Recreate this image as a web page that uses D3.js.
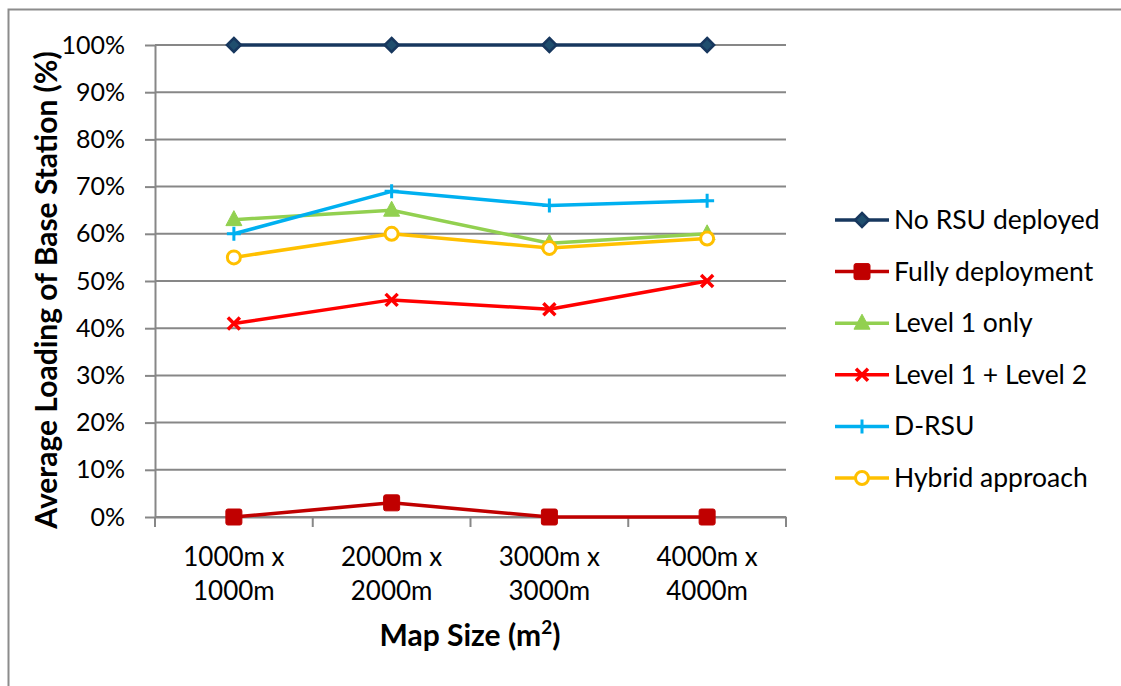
<!DOCTYPE html>
<html><head><meta charset="utf-8">
<script src="https://cdn.jsdelivr.net/npm/d3@7"></script>
<style>body{margin:0;background:#fff;} svg{display:block;}</style>
</head><body>
<svg id="c" width="1121" height="686"></svg>
<script>
const categories = ["1000m x|1000m","2000m x|2000m","3000m x|3000m","4000m x|4000m"];
const yTicks = [0,10,20,30,40,50,60,70,80,90,100];
const seriesNames = ["No RSU deployed","Fully deployment","Level 1 only","Level 1 + Level 2","D-RSU","Hybrid approach"];
const noRsu = [100,100,100,100];
const fully = [0,3,0,0];
const level1 = [63,65,58,60];
const level12 = [41,46,44,50];
const drsu = [60,69,66,67];
const hybrid = [55,60,57,59];

const series = [
  {name:seriesNames[0], values:noRsu, color:"#17375E", marker:"diamond", fill:"#1F4E6E"},
  {name:seriesNames[1], values:fully, color:"#C00000", marker:"square", fill:"#C00000"},
  {name:seriesNames[2], values:level1, color:"#92D050", marker:"triangle", fill:"#92D050"},
  {name:seriesNames[3], values:level12, color:"#FF0000", marker:"x", fill:"none"},
  {name:seriesNames[4], values:drsu, color:"#00B0F0", marker:"plus", fill:"none"},
  {name:seriesNames[5], values:hybrid, color:"#FFC000", marker:"circle", fill:"#fff"}
];

const svg = d3.select("#c");
const font = "Lato, 'Open Sans', sans-serif";
svg.append("rect").attr("x",8.5).attr("y",9.5).attr("width",1130).attr("height",700)
  .attr("fill","#fff").attr("stroke","#8c8c8c").attr("stroke-width",2);

const pLeft=155, pRight=786, pTop=45, pBottom=517;
const x = d3.scaleBand().domain(categories).range([pLeft,pRight]);
const y = d3.scaleLinear().domain([0,100]).range([pBottom,pTop]);
const grid = "#878787";

// gridlines
svg.append("g").selectAll("line").data(yTicks).join("line")
  .attr("x1",pLeft).attr("x2",pRight).attr("y1",d=>y(d)).attr("y2",d=>y(d))
  .attr("stroke",grid).attr("stroke-width",2);

// y axis
const ya = svg.append("g").attr("transform",`translate(${pLeft},0)`)
  .call(d3.axisLeft(y).tickValues(yTicks).tickFormat(d=>d+"%").tickSize(10).tickSizeOuter(0).tickPadding(20));
ya.select(".domain").attr("stroke",grid).attr("stroke-width",2);
ya.selectAll(".tick line").attr("stroke",grid).attr("stroke-width",2);
ya.selectAll("text").attr("font-family",font).attr("font-size",25).attr("fill","#000");

// x axis
const xa = svg.append("g").attr("transform",`translate(0,${pBottom})`)
  .call(d3.axisBottom(x).tickSize(0).tickSizeOuter(0).tickFormat(""));
xa.select(".domain").attr("stroke",grid).attr("stroke-width",2);
const bounds = categories.map(c=>x(c)).concat([x(categories[categories.length-1])+x.bandwidth()]);
svg.append("g").selectAll("line").data(bounds).join("line")
  .attr("x1",d=>d).attr("x2",d=>d).attr("y1",pBottom).attr("y2",pBottom+10)
  .attr("stroke",grid).attr("stroke-width",2);
const cl = svg.append("g").selectAll("text").data(categories).join("text")
  .attr("x",d=>x(d)+x.bandwidth()/2).attr("y",566)
  .attr("text-anchor","middle").attr("font-family",font).attr("font-size",26).attr("fill","#000");
cl.each(function(d){
  const parts=d.split("|");
  d3.select(this).selectAll("tspan").data(parts).join("tspan")
    .attr("x",x(d)+x.bandwidth()/2).attr("dy",(p,i)=>i?34:0).text(p=>p);
});

// axis titles
svg.append("text").attr("transform","translate(57,290) rotate(-90)")
  .attr("text-anchor","middle").attr("font-family",font).attr("font-weight","bold")
  .attr("font-size",30).attr("fill","#000").text("Average Loading of Base Station (%)");
const xt = svg.append("text").attr("x",470).attr("y",646).attr("text-anchor","middle")
  .attr("font-family",font).attr("font-weight","bold").attr("font-size",30).attr("fill","#000");
xt.append("tspan").text("Map Size (m");
xt.append("tspan").attr("font-size",19).attr("dy",-12).text("2");
xt.append("tspan").attr("dy",12).text(")");

function drawMarker(g, s, cx, cy){
  const m = s.marker;
  if(m==="diamond"){
    g.append("path").attr("d",`M${cx},${cy-7}L${cx+7},${cy}L${cx},${cy+7}L${cx-7},${cy}Z`)
      .attr("fill",s.fill).attr("stroke",s.color).attr("stroke-width",2.5);
  } else if(m==="square"){
    g.append("rect").attr("x",cx-8).attr("y",cy-8).attr("width",16).attr("height",16).attr("rx",2)
      .attr("fill",s.fill).attr("stroke",s.color).attr("stroke-width",1);
  } else if(m==="triangle"){
    g.append("path").attr("d",`M${cx},${cy-9}L${cx+8},${cy+6}L${cx-8},${cy+6}Z`)
      .attr("fill",s.fill).attr("stroke",s.color).attr("stroke-width",1);
  } else if(m==="x"){
    g.append("path").attr("d",`M${cx-6},${cy-6}L${cx+6},${cy+6}M${cx-6},${cy+6}L${cx+6},${cy-6}`)
      .attr("stroke",s.color).attr("stroke-width",3.5).attr("fill","none");
  } else if(m==="plus"){
    g.append("path").attr("d",`M${cx-7},${cy}L${cx+7},${cy}M${cx},${cy-7}L${cx},${cy+7}`)
      .attr("stroke",s.color).attr("stroke-width",3).attr("fill","none");
  } else if(m==="circle"){
    g.append("circle").attr("cx",cx).attr("cy",cy).attr("r",6.5)
      .attr("fill",s.fill).attr("stroke",s.color).attr("stroke-width",3);
  }
}

const line = d3.line().x((d,i)=>x(categories[i])+x.bandwidth()/2).y(d=>y(d));
series.forEach(s=>{
  const g = svg.append("g");
  g.append("path").attr("d",line(s.values)).attr("fill","none").attr("stroke",s.color)
    .attr("stroke-width",3.5).attr("stroke-linejoin","round");
  s.values.forEach((v,i)=>drawMarker(g,s,x(categories[i])+x.bandwidth()/2,y(v)));
});

// legend
const ly = d3.scalePoint().domain(seriesNames).range([220,478]);
series.forEach(s=>{
  const g = svg.append("g");
  const yy = ly(s.name);
  g.append("line").attr("x1",835).attr("x2",889).attr("y1",yy).attr("y2",yy)
    .attr("stroke",s.color).attr("stroke-width",3.5);
  drawMarker(g,s,862,yy);
  g.append("text").attr("x",894).attr("y",yy+9).attr("font-family",font).attr("font-size",26.5)
    .attr("fill","#000").text(s.name);
});
</script>
</body></html>
